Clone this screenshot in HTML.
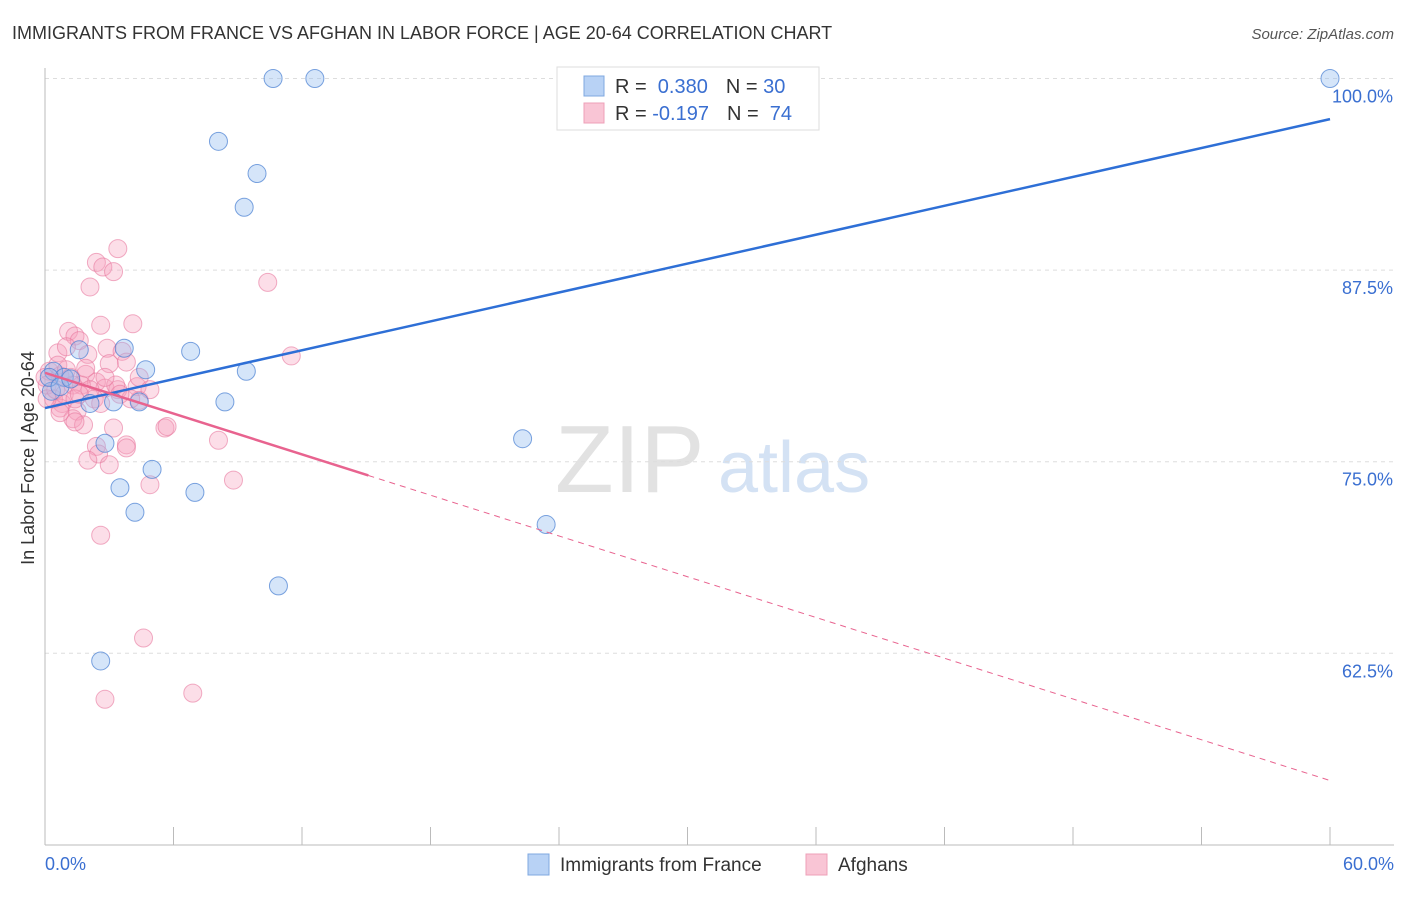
<!DOCTYPE html>
<html><head><meta charset="utf-8"><style>
body{margin:0;background:#fff;font-family:"Liberation Sans",sans-serif;}
svg text{font-family:"Liberation Sans",sans-serif;}
</style></head><body>
<svg id="chart" width="1406" height="892">
<text x="12" y="39" font-size="18" fill="#333">IMMIGRANTS FROM FRANCE VS AFGHAN IN LABOR FORCE | AGE 20-64 CORRELATION CHART</text>
<text x="1394" y="39" font-size="15" fill="#555" font-style="italic" text-anchor="end">Source: ZipAtlas.com</text>
<text x="34" y="458" font-size="18" fill="#333" text-anchor="middle" transform="rotate(-90 34 458)">In Labor Force | Age 20-64</text>
<text x="555" y="492" font-size="96" fill="#e2e2e2" font-family="Liberation Serif">ZIP</text>
<text x="718" y="492" font-size="72" fill="#d4e2f4">atlas</text>
<g id="grid"></g><g id="axes"></g><g id="pts"></g><g id="lines"></g>
<g>
<rect x="557" y="67" width="262" height="63" fill="#fff" stroke="#ddd"/>
<rect x="584" y="76" width="20" height="20" fill="#b8d2f5" stroke="#7fa8e0"/>
<rect x="584" y="103" width="20" height="20" fill="#f9c5d5" stroke="#eea0b8"/>
<text x="615" y="93" font-size="20" fill="#333">R = <tspan fill="#3a6fd1">&#160;0.380</tspan><tspan dx="18">N = </tspan><tspan fill="#3a6fd1">30</tspan></text>
<text x="615" y="120" font-size="20" fill="#333">R = <tspan fill="#3a6fd1">-0.197</tspan><tspan dx="18">N = </tspan><tspan fill="#3a6fd1">&#160;74</tspan></text>
</g>
<g>
<rect x="528" y="854" width="21" height="21" fill="#b8d2f5" stroke="#7fa8e0"/>
<text x="560" y="871" font-size="19" fill="#333">Immigrants from France</text>
<rect x="806" y="854" width="21" height="21" fill="#f9c5d5" stroke="#eea0b8"/>
<text x="838" y="871" font-size="19" fill="#333">Afghans</text>
</g>
</svg>
<script>
const yTicks=[100,87.5,75,62.5];
const xTickLabels=["0.0%","60.0%"];
const franceX=[10.65,12.6,60.0,8.1,9.9,9.3,6.8,3.7,1.6,4.7,9.4,0.4,0.9,2.1,3.2,4.4,8.4,0.3,22.3,2.8,5.0,3.5,7.0,4.2,23.4,10.9,2.6,0.2,0.7,1.2];
const franceY=[100,100,100,95.9,93.8,91.6,82.2,82.4,82.3,81.0,80.9,80.9,80.5,78.8,78.9,78.9,78.9,79.6,76.5,76.2,74.5,73.3,73.0,71.7,70.9,66.9,62.0,80.5,79.9,80.4];
const afghanX=[3.4,2.4,2.7,3.2,2.1,10.4,2.6,4.1,1.1,1.4,1.6,0.6,1.0,2.0,2.9,3.6,3.8,3.0,11.5,0.2,0.7,1.2,1.9,2.4,1.7,2.8,3.4,4.3,0.4,0.8,1.3,2.1,4.4,1.5,0.7,1.3,1.8,3.2,5.6,5.7,3.8,8.1,2.4,3.8,2.5,2.0,3.0,4.9,8.8,2.6,4.6,6.9,2.8,0.1,0.1,0.5,0.6,0.9,1.4,2.3,3.3,0.0,1.0,1.6,2.6,4.0,3.5,1.9,2.8,1.4,0.7,4.4,4.9];
const afghanY=[88.9,88.0,87.7,87.4,86.4,86.7,83.9,84.0,83.5,83.2,82.9,82.1,82.5,82.0,82.4,82.2,81.5,81.4,81.9,80.9,80.6,80.5,80.7,80.2,80.0,79.8,79.7,79.9,79.1,78.8,80.0,79.7,79.0,78.3,78.5,77.8,77.4,77.2,77.2,77.3,76.1,76.4,76.0,75.9,75.5,75.1,74.8,73.5,73.8,70.2,63.5,59.9,59.5,80.0,79.1,79.7,81.3,79.4,79.1,79.1,80.0,80.5,81.0,79.4,78.8,79.1,79.4,81.1,80.5,77.6,78.2,80.5,79.7];
const xMin=0,xMax=60,yMin=50,yMax=100;
const X=v=>45+(v-xMin)/(xMax-xMin)*1285;
const Y=v=>78.5+(yMax-v)/12.5*191.6;
const NS="http://www.w3.org/2000/svg";
function mk(tag,attrs,parent){const e=document.createElementNS(NS,tag);for(const k in attrs)e.setAttribute(k,attrs[k]);document.getElementById(parent).appendChild(e);return e;}
yTicks.forEach((t,i)=>{
 const l=mk('line',{x1:45,x2:1394,y1:Y(t),y2:Y(t),stroke:'#ddd','stroke-dasharray':'4,4'},'grid');
 
 
 const tx=mk('text',{x:1393,y:Y(t)+24,'font-size':18,fill:'#3a6fd1','text-anchor':'end'},'grid');
 tx.textContent=t.toFixed(1)+'%';
 
 
});
mk('line',{x1:45,x2:45,y1:68,y2:845,stroke:'#bbb'},'axes');
mk('line',{x1:45,x2:1394,y1:845,y2:845,stroke:'#bbb'},'axes');
for(let i=0;i<=10;i++){const x=X(i*6);const t=mk('line',{x1:x,x2:x,y1:827,y2:845,stroke:'#bbb'},'axes');
 
 }
[[0,"start",45],[1,"end",1394]].forEach(([i,a,x])=>{const t=mk('text',{x:x,y:870,'font-size':18,fill:'#3a6fd1','text-anchor':a},'axes');t.textContent=xTickLabels[i];
 
 });
afghanX.forEach((v,i)=>{const c=mk('circle',{cx:X(v),cy:Y(afghanY[i]),r:9,fill:'rgba(245,160,188,0.35)',stroke:'rgba(232,120,158,0.6)','stroke-width':1},'pts');
 
 });
franceX.forEach((v,i)=>{const c=mk('circle',{cx:X(v),cy:Y(franceY[i]),r:9,fill:'rgba(150,190,240,0.4)',stroke:'rgba(70,125,210,0.7)','stroke-width':1},'pts');
 
 });
const bl=mk('line',{x1:X(0),y1:Y(78.5),x2:X(60),y2:Y(97.35),stroke:'#2e6fd6','stroke-width':2.5},'lines');


const p1=mk('line',{x1:X(0),y1:Y(80.8),x2:X(15.1),y2:Y(74.1),stroke:'#e8638f','stroke-width':2.5},'lines');


const p2=mk('line',{x1:X(15.1),y1:Y(74.1),x2:X(60),y2:Y(54.2),stroke:'#e8638f','stroke-width':1,'stroke-dasharray':'6,5'},'lines');


</script>
</body></html>
